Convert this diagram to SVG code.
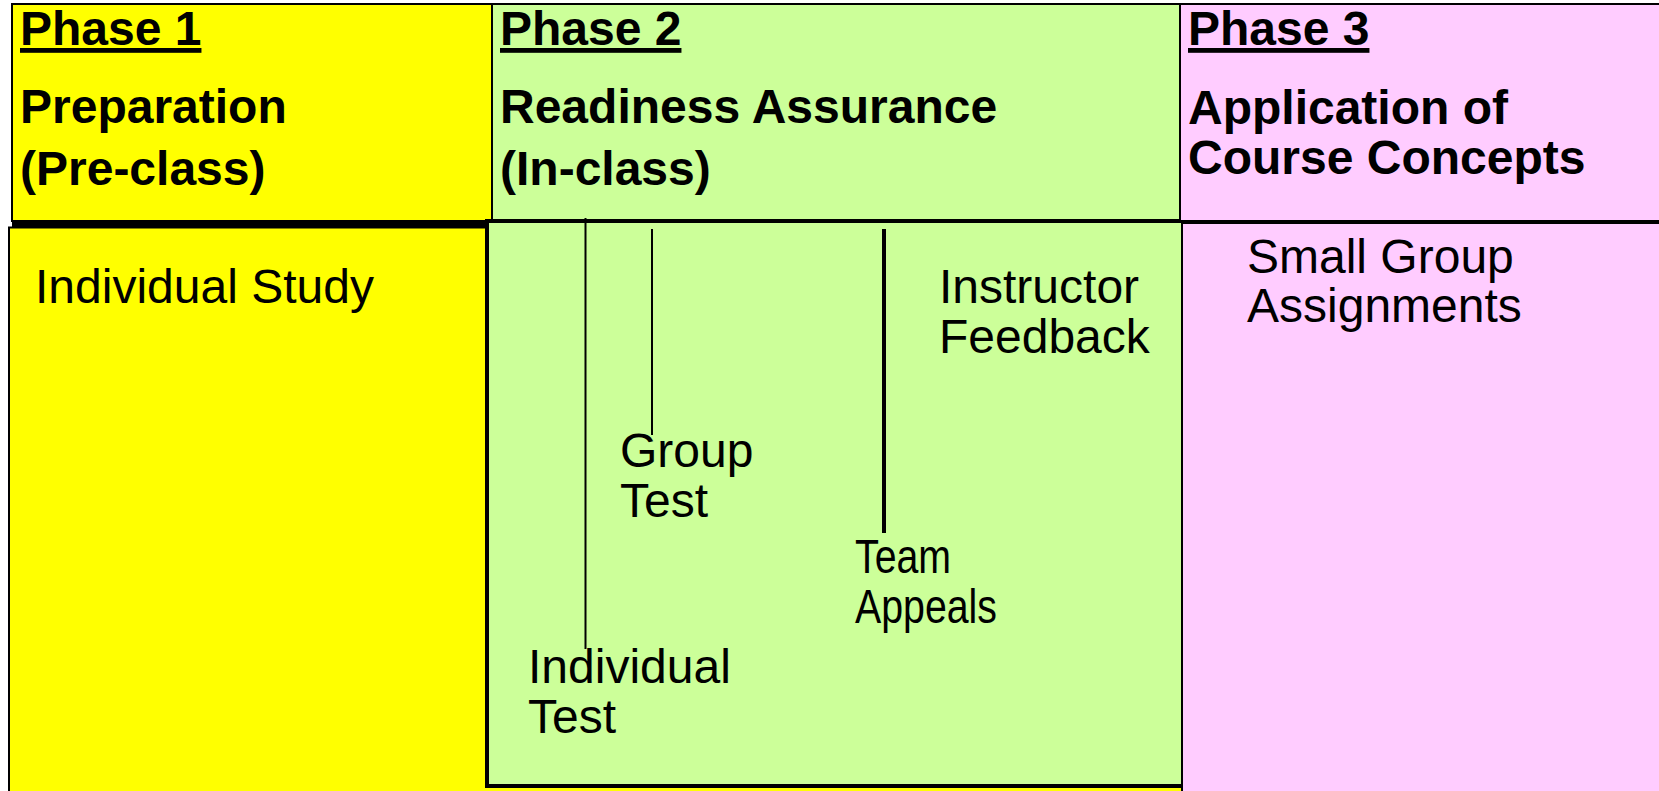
<svg xmlns="http://www.w3.org/2000/svg" width="1659" height="791" viewBox="0 0 1659 791">
  <style>
    .hdr { font-family: "Liberation Sans", Arial, sans-serif; font-weight: bold; font-size: 48px; fill: #000; }
    .ul { text-decoration: underline; }
    .lbl { font-family: "Liberation Sans", Arial, sans-serif; font-size: 48px; fill: #000; }
    .box { stroke: #000; stroke-width: 2; }
    .p1 { fill: #FFFF00; }
    .p2 { fill: #CCFF99; }
    .p3 { fill: #FFCCFF; }
    .link { stroke: #000; fill: none; }
  </style>
  <rect width="1659" height="791" fill="#FFFFFF"/>

  <!-- Phase 1 column -->
  <g id="phase1">
    <rect class="box p1" x="12" y="4" width="480" height="217"/>
    <line x1="12" y1="224" x2="492" y2="224" stroke="#000" stroke-width="6"/>
    <rect class="box p1" x="9" y="227.5" width="1174" height="570" stroke-width="2.5"/>
    <text class="hdr ul" x="20" y="45">Phase 1</text>
    <text class="hdr" x="20" y="123">Preparation</text>
    <text class="hdr" x="20" y="185">(Pre-class)</text>
    <text class="lbl" x="35" y="303">Individual Study</text>
  </g>

  <!-- Phase 2 column -->
  <g id="phase2">
    <rect class="box p2" x="492" y="4" width="688" height="217"/>
    <rect class="p2" x="487" y="221" width="696" height="565" stroke="#000" stroke-width="4"/>
    <text class="hdr ul" x="500" y="45">Phase 2</text>
    <text class="hdr" x="500" y="123">Readiness Assurance</text>
    <text class="hdr" x="500" y="185">(In-class)</text>
  </g>

  <!-- Phase 3 column -->
  <g id="phase3">
    <rect class="box p3" x="1180" y="4" width="490" height="217"/>
    <rect class="box p3" x="1182" y="223" width="490" height="570"/>
    <text class="hdr ul" x="1188" y="45">Phase 3</text>
    <text class="hdr" x="1188" y="124">Application of</text>
    <text class="hdr" x="1188" y="174">Course Concepts</text>
    <text class="lbl" x="1247" y="273">Small Group</text>
    <text class="lbl" x="1247" y="322">Assignments</text>
  </g>

  <!-- Readiness assurance steps -->
  <g id="individual-test">
    <text class="lbl" x="528" y="683">Individual</text>
    <text class="lbl" x="528" y="733">Test</text>
  </g>
  <g id="group-test">
    <text class="lbl" x="620" y="467">Group</text>
    <text class="lbl" x="620" y="517">Test</text>
  </g>
  <g id="team-appeals">
    <text class="lbl" x="855" y="573" textLength="96" lengthAdjust="spacingAndGlyphs">Team</text>
    <text class="lbl" x="855" y="623" textLength="142" lengthAdjust="spacingAndGlyphs">Appeals</text>
  </g>
  <g id="instructor-feedback">
    <text class="lbl" x="939" y="303">Instructor</text>
    <text class="lbl" x="939" y="353">Feedback</text>
  </g>

  <!-- Step leader lines -->
  <g id="connectors">
    <line class="link" x1="585.5" y1="218" x2="585.5" y2="649" stroke-width="2"/>
    <line class="link" x1="652" y1="229" x2="652" y2="435" stroke-width="2"/>
    <line class="link" x1="884" y1="229" x2="884" y2="533" stroke-width="4"/>
  </g>
</svg>
